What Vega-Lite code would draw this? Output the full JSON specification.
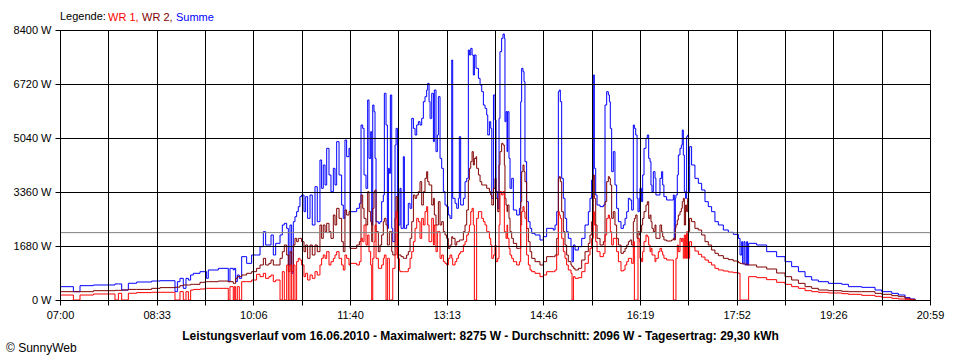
{
"$schema": "https://vega.github.io/schema/vega-lite/v6.json",
"width": 870, "height": 270,
"autosize": {"type": "none"},
"padding": {"left": 60, "top": 30, "right": 30, "bottom": 60},
"background": "white",
"config": {"view": {"stroke": "#000", "strokeWidth": 1}, "font": "Liberation Sans"},
"title": {"text": "© SunnyWeb", "orient": "bottom", "anchor": "start", "frame": "group", "dx": -54, "offset": 2, "fontSize": 12, "fontWeight": "normal", "color": "#000", "font": "Liberation Sans"},
"layer": [
{
"data": {"values": [
{"t":420,"s1":415,"s2":259,"s3":155},{"t":432.9,"s1":259,"s2":259,"s3":0},{"t":439.3,"s1":446,"s2":259,"s3":155},{"t":452.2,"s1":467,"s2":290,"s3":187},{"t":473,"s1":500,"s2":300,"s3":0},{"t":476.3,"s1":500,"s2":300,"s3":207},{"t":479.5,"s1":310,"s2":310,"s3":0},{"t":485.9,"s1":520,"s2":330,"s3":210},{"t":493.9,"s1":560,"s2":330,"s3":230},{"t":508.4,"s1":590,"s2":363,"s3":240},{"t":516.5,"s1":600,"s2":385,"s3":240},{"t":530.9,"s1":260,"s2":395,"s3":0},{"t":533.2,"s1":570,"s2":400,"s3":0},{"t":535.7,"s1":674,"s2":445,"s3":260},{"t":538.9,"s1":363,"s2":467,"s3":0},{"t":541.5,"s1":674,"s2":467,"s3":259},{"t":543.8,"s1":620,"s2":467,"s3":0},{"t":546,"s1":778,"s2":488,"s3":310},{"t":548.6,"s1":830,"s2":488,"s3":330},{"t":555,"s1":881,"s2":550,"s3":342},
{"t":559.8,"s1":881,"s2":570,"s3":363},{"t":561.4,"s1":674,"s2":570,"s3":363},{"t":563,"s1":933,"s2":570,"s3":363},{"t":572.7,"s1":985,"s2":590,"s3":363},{"t":582.3,"s1":570,"s2":570,"s3":0},{"t":583.9,"s1":985,"s2":570,"s3":415},{"t":587.1,"s1":933,"s2":518,"s3":0},{"t":588.1,"s1":985,"s2":518,"s3":415},{"t":589.4,"s1":570,"s2":674,"s3":0},{"t":591,"s1":778,"s2":726,"s3":415},{"t":592.9,"s1":674,"s2":726,"s3":0},{"t":595.2,"s1":1348,"s2":778,"s3":570},{"t":600,"s1":1140,"s2":830,"s3":570},{"t":604.8,"s1":1400,"s2":881,"s3":622},{"t":609.6,"s1":1400,"s2":985,"s3":800},{"t":612.9,"s1":1659,"s2":1089,"s3":726},{"t":616.1,"s1":2126,"s2":1296,"s3":830},{"t":618.3,"s1":1711,"s2":1089,"s3":674},{"t":621.5,"s1":1711,"s2":1140,"s3":726},{"t":623.5,"s1":2022,"s2":1244,"s3":778},{"t":625.7,"s1":1400,"s2":1089,"s3":570},{"t":628,"s1":1763,"s2":1089,"s3":622},{"t":632.2,"s1":2022,"s2":1296,"s3":0},{"t":634.4,"s1":2333,"s2":1504,"s3":881},{"t":636.3,"s1":2385,"s2":1711,"s3":0},{"t":638.6,"s1":2229,"s2":1400,"s3":1089},{"t":640.2,"s1":1089,"s2":881,"s3":0},{"t":641.8,"s1":2333,"s2":1504,"s3":1089},{"t":643.4,"s1":830,"s2":881,"s3":0},{"t":645,"s1":2437,"s2":1711,"s3":1089},{"t":646.6,"s1":2592,"s2":1918,"s3":0},{"t":648.2,"s1":2748,"s2":1815,"s3":1192},{"t":649.8,"s1":2904,"s2":1918,"s3":1296},{"t":651.4,"s1":3215,"s2":1918,"s3":1244},{"t":653,"s1":3266,"s2":1815,"s3":1089},{"t":655.3,"s1":2748,"s2":1504,"s3":726},{"t":656.9,"s1":3215,"s2":1711,"s3":830},{"t":658.8,"s1":2540,"s2":1296,"s3":622},{"t":661.1,"s1":3266,"s2":1711,"s3":778},{"t":663.3,"s1":2333,"s2":1400,"s3":674},{"t":665.9,"s1":3525,"s2":1711,"s3":881},{"t":668.1,"s1":2437,"s2":1504,"s3":778},{"t":670.7,"s1":4355,"s2":2333,"s3":1089},{"t":672.3,"s1":3474,"s2":1918,"s3":1296},{"t":673.9,"s1":4200,"s2":2333,"s3":1400},{"t":675.6,"s1":3578,"s2":2126,"s3":1296},{"t":677.2,"s1":4718,"s2":2385,"s3":1504},{"t":679.4,"s1":3889,"s2":2126,"s3":1089},{"t":681.3,"s1":3370,"s2":1918,"s3":1192},{"t":683.6,"s1":4096,"s2":2644,"s3":1296},{"t":685.2,"s1":3578,"s2":2333,"s3":1400},{"t":686.8,"s1":4926,"s2":2852,"s3":1504},{"t":689.1,"s1":3889,"s2":2540,"s3":1296},{"t":691.6,"s1":2955,"s2":1815,"s3":1089},{"t":693.2,"s1":2540,"s2":1504,"s3":933},{"t":694.8,"s1":4977,"s2":2800,"s3":1400},{"t":696.4,"s1":4459,"s2":2644,"s3":1296},{"t":698.7,"s1":4718,"s2":2748,"s3":1089},
{"t":699.7,"s1":2748,"s2":1607,"s3":1140},{"t":706.1,"s1":2852,"s2":1711,"s3":1089},{"t":708.7,"s1":3007,"s2":1815,"s3":1192},{"t":710.3,"s1":5444,"s2":3266,"s3":1918},{"t":711.9,"s1":5340,"s2":2852,"s3":1815},{"t":713.2,"s1":3889,"s2":2540,"s3":2333},{"t":715.1,"s1":3474,"s2":2333,"s3":1711},{"t":716.7,"s1":6222,"s2":3370,"s3":2022},{"t":718,"s1":4407,"s2":2748,"s3":1504},{"t":719.6,"s1":5237,"s2":2437,"s3":1089},{"t":720.6,"s1":2333,"s2":1815,"s3":0},{"t":721.6,"s1":6066,"s2":2852,"s3":1296},{"t":722.8,"s1":5859,"s2":3370,"s3":1815},{"t":723.8,"s1":4407,"s2":3422,"s3":2333},{"t":724.8,"s1":2437,"s2":2126,"s3":1296},{"t":727,"s1":2385,"s2":1504,"s3":985},{"t":728.6,"s1":2437,"s2":1711,"s3":985},{"t":730.2,"s1":3059,"s2":2022,"s3":1089},{"t":731.8,"s1":3266,"s2":2437,"s3":1296},{"t":732.8,"s1":6430,"s2":2540,"s3":1400},{"t":734.4,"s1":5444,"s2":2333,"s3":0},{"t":735.7,"s1":2229,"s2":1711,"s3":1296},{"t":736.7,"s1":4096,"s2":1711,"s3":1296},{"t":737.6,"s1":3941,"s2":2126,"s3":0},{"t":738.6,"s1":6378,"s2":2126,"s3":0},{"t":739.9,"s1":2229,"s2":1504,"s3":0},{"t":740.9,"s1":1815,"s2":1400,"s3":985},{"t":743.1,"s1":4822,"s2":2540,"s3":1400},{"t":744.1,"s1":5340,"s2":3215,"s3":2748},{"t":745.4,"s1":2333,"s2":1400,"s3":1296},{"t":747.3,"s1":2333,"s2":1400,"s3":933},{"t":747.9,"s1":3474,"s2":1400,"s3":881},{"t":748.9,"s1":2229,"s2":1348,"s3":881},{"t":751.1,"s1":4459,"s2":1296,"s3":881},{"t":752.1,"s1":2229,"s2":1296,"s3":881},{"t":754.3,"s1":2333,"s2":1400,"s3":881},{"t":755.9,"s1":3007,"s2":1504,"s3":985},{"t":757.6,"s1":2852,"s2":1918,"s3":1296},{"t":759.2,"s1":5652,"s2":2437,"s3":1504},{"t":760.8,"s1":5340,"s2":3266,"s3":1815},{"t":762.4,"s1":5133,"s2":3163,"s3":2229},{"t":764,"s1":5444,"s2":3266,"s3":2540},{"t":765.6,"s1":5548,"s2":3370,"s3":2437},{"t":767.2,"s1":5444,"s2":3681,"s3":1918},{"t":768.8,"s1":5652,"s2":2955,"s3":2540},{"t":770.4,"s1":6170,"s2":3370,"s3":2333},{"t":772,"s1":6326,"s2":3785,"s3":2748},{"t":773.6,"s1":6533,"s2":3992,"s3":2904},{"t":774.6,"s1":6740,"s2":3681,"s3":2333},{"t":775.9,"s1":6170,"s2":3578,"s3":1815},{"t":776.9,"s1":5652,"s2":3578,"s3":1815},{"t":778.5,"s1":6430,"s2":2955,"s3":2540},{"t":780.1,"s1":4926,"s2":3163,"s3":1711},{"t":781,"s1":6533,"s2":2644,"s3":2333},{"t":782.6,"s1":4615,"s2":2333,"s3":1504},{"t":783.9,"s1":5133,"s2":2333,"s3":2126},{"t":784.9,"s1":6326,"s2":3059,"s3":2126},{"t":786.5,"s1":4407,"s2":2333,"s3":1296},{"t":788.1,"s1":4096,"s2":2437,"s3":1400},{"t":789.7,"s1":3370,"s2":2126,"s3":1192},{"t":791.3,"s1":2955,"s2":2022,"s3":1140},{"t":792.9,"s1":2904,"s2":1918,"s3":1089},{"t":794.5,"s1":2644,"s2":1607,"s3":1296},{"t":796.1,"s1":2540,"s2":1711,"s3":1400},{"t":797.8,"s1":7466,"s2":1970,"s3":1296},{"t":798.7,"s1":3163,"s2":1918,"s3":1089},{"t":801,"s1":3007,"s2":1711,"s3":1192},{"t":802.6,"s1":2852,"s2":1815,"s3":1296},{"t":804.2,"s1":3163,"s2":1815,"s3":1400},{"t":805.1,"s1":5081,"s2":1867,"s3":1452},{"t":806.4,"s1":2955,"s2":1867,"s3":1504},{"t":809,"s1":3163,"s2":2126,"s3":1711},{"t":810.6,"s1":3681,"s2":2333,"s3":1815},{"t":812.2,"s1":3785,"s2":2800,"s3":2022},{"t":813.8,"s1":7777,"s2":3733,"s3":2126},{"t":814.8,"s1":7622,"s2":4096,"s3":2333},{"t":816.1,"s1":7829,"s2":4304,"s3":2748},{"t":817.4,"s1":7622,"s2":4615,"s3":2852},{"t":818.6,"s1":7000,"s2":4200,"s3":2333},{"t":819.6,"s1":7622,"s2":4407,"s3":0},{"t":821.2,"s1":7207,"s2":4459,"s3":0},{"t":821.8,"s1":7207,"s2":4096,"s3":2540},{"t":823.5,"s1":6896,"s2":3889,"s3":2748},{"t":825.1,"s1":6689,"s2":3681,"s3":2748},{"t":826.7,"s1":6481,"s2":3578,"s3":2540},{"t":828.3,"s1":6066,"s2":3578,"s3":2437},{"t":829.9,"s1":5963,"s2":3578,"s3":2333},{"t":831.5,"s1":5755,"s2":3474,"s3":2126},{"t":832.5,"s1":5133,"s2":3474,"s3":2126},{"t":834.1,"s1":5548,"s2":3370,"s3":1918},{"t":835.4,"s1":5340,"s2":3266,"s3":1711},{"t":836.4,"s1":3163,"s2":2955,"s3":1296},{"t":838,"s1":6378,"s2":3474,"s3":1400},
{"t":839.5,"s1":5600,"s2":3785,"s3":1711},{"t":840.5,"s1":3370,"s2":3163,"s3":1192},{"t":842.1,"s1":2852,"s2":2748,"s3":1296},{"t":843.4,"s1":5652,"s2":4200,"s3":2333},{"t":844.3,"s1":7726,"s2":4615,"s3":3370},{"t":845.9,"s1":8140,"s2":4874,"s3":3266},{"t":847.2,"s1":8275,"s2":4822,"s3":3370},{"t":848.5,"s1":8140,"s2":4200,"s3":2126},{"t":849.1,"s1":5548,"s2":3163,"s3":2126},{"t":850.1,"s1":5859,"s2":2955,"s3":1918},{"t":851.1,"s1":4615,"s2":2748,"s3":2333},{"t":851.7,"s1":5859,"s2":2955,"s3":1918},{"t":853,"s1":4407,"s2":2540,"s3":1607},{"t":854,"s1":3474,"s2":2126,"s3":1400},{"t":855.6,"s1":3785,"s2":1918,"s3":1296},{"t":857.2,"s1":2800,"s2":1763,"s3":1192},{"t":860.4,"s1":2644,"s2":1607,"s3":1089},{"t":863,"s1":2852,"s2":1607,"s3":1192},{"t":864.3,"s1":6170,"s2":3059,"s3":2333},{"t":865.2,"s1":7207,"s2":3992,"s3":2748},{"t":866.5,"s1":7103,"s2":4200,"s3":2904},{"t":867.5,"s1":6792,"s2":3992,"s3":2748},{"t":868.4,"s1":4304,"s2":3681,"s3":2540},{"t":870,"s1":3059,"s2":2229,"s3":1400},{"t":871.7,"s1":2437,"s2":1815,"s3":1089},{"t":873.3,"s1":2229,"s2":1504,"s3":933},{"t":874.9,"s1":2074,"s2":1296,"s3":881},{"t":878.1,"s1":2022,"s2":1192,"s3":830},{"t":882.9,"s1":1867,"s2":1089,"s3":726},{"t":886.1,"s1":1970,"s2":1192,"s3":778},{"t":889.3,"s1":2229,"s2":1348,"s3":881},{"t":892.5,"s1":2229,"s2":1348,"s3":881},{"t":895.8,"s1":2178,"s2":1348,"s3":881},{"t":897.4,"s1":2333,"s2":1400,"s3":933},{"t":899,"s1":2748,"s2":1918,"s3":1400},{"t":900.6,"s1":6481,"s2":3785,"s3":2748},{"t":901.5,"s1":6533,"s2":3837,"s3":2644},{"t":902.5,"s1":6170,"s2":3681,"s3":2540},{"t":903.8,"s1":3785,"s2":2748,"s3":1918},{"t":905.4,"s1":3163,"s2":2126,"s3":1504},{"t":907,"s1":2540,"s2":1711,"s3":1296},{"t":908.6,"s1":2126,"s2":1400,"s3":1089},{"t":910.2,"s1":1918,"s2":1192,"s3":933},{"t":912.8,"s1":1659,"s2":1089,"s3":830},{"t":913.8,"s1":1192,"s2":1037,"s3":0},{"t":915.1,"s1":1711,"s2":985,"s3":726},{"t":916.7,"s1":1555,"s2":933,"s3":674},{"t":919.9,"s1":1659,"s2":985,"s3":695},{"t":923.1,"s1":1918,"s2":1244,"s3":881},{"t":926.3,"s1":2333,"s2":1504,"s3":1140},{"t":929.5,"s1":2748,"s2":1763,"s3":1400},{"t":931.1,"s1":3163,"s2":2022,"s3":1607},{"t":932.7,"s1":3733,"s2":2437,"s3":1918},{"t":934.3,"s1":7000,"s2":3889,"s3":2748},{"t":935.3,"s1":4096,"s2":3163,"s3":2333},{"t":936.6,"s1":3266,"s2":2333,"s3":1815},{"t":937.9,"s1":2955,"s2":1918,"s3":1504},{"t":940.8,"s1":2904,"s2":1711,"s3":1348},{"t":944,"s1":2955,"s2":1815,"s3":1452},{"t":945.6,"s1":6066,"s2":3059,"s3":2022},{"t":947.2,"s1":6481,"s2":3681,"s3":2540},{"t":948.8,"s1":6378,"s2":3837,"s3":2644},{"t":949.8,"s1":6170,"s2":3785,"s3":2540},{"t":950.7,"s1":5340,"s2":3578,"s3":2126},{"t":952,"s1":3992,"s2":2540,"s3":1711},{"t":953.6,"s1":4615,"s2":2748,"s3":1918},{"t":955.2,"s1":3578,"s2":2333,"s3":1918},{"t":956.8,"s1":2852,"s2":1918,"s3":1504},{"t":958.5,"s1":2437,"s2":1711,"s3":1192},{"t":961,"s1":2229,"s2":1452,"s3":903},{"t":963.3,"s1":2333,"s2":1504,"s3":933},{"t":964.9,"s1":2540,"s2":1607,"s3":1089},{"t":966.5,"s1":2748,"s2":1711,"s3":1192},{"t":968.1,"s1":3163,"s2":1815,"s3":1296},{"t":969.7,"s1":3111,"s2":1867,"s3":1296},{"t":971.3,"s1":2800,"s2":1711,"s3":1140},{"t":972.9,"s1":5444,"s2":2437,"s3":1815},{"t":973.9,"s1":5340,"s2":2540,"s3":0},{"t":975.2,"s1":5133,"s2":2644,"s3":0},{"t":976.5,"s1":3163,"s2":1918,"s3":0},{"t":977.4,"s1":2748,"s2":2126,"s3":1918},{"t":978.7,"s1":3163,"s2":2022,"s3":1815},
{"t":979.3,"s1":3474,"s2":2126,"s3":1296},{"t":980.9,"s1":3059,"s2":2333,"s3":1192},{"t":981.9,"s1":3889,"s2":2540,"s3":1504},{"t":983.2,"s1":4718,"s2":2748,"s3":1815},{"t":985.1,"s1":5029,"s2":2955,"s3":2022},{"t":986.4,"s1":5133,"s2":3059,"s3":1970},{"t":987.7,"s1":4407,"s2":2540,"s3":1711},{"t":989,"s1":4304,"s2":2644,"s3":1504},{"t":989.9,"s1":3578,"s2":2437,"s3":1607},{"t":990.9,"s1":3370,"s2":2229,"s3":1400},{"t":992.2,"s1":3992,"s2":2126,"s3":1400},{"t":993.8,"s1":3785,"s2":2333,"s3":1192},{"t":994.7,"s1":3266,"s2":1918,"s3":1296},{"t":997,"s1":3266,"s2":1918,"s3":1504},{"t":998.6,"s1":3785,"s2":2333,"s3":1607},{"t":1000.2,"s1":3992,"s2":2126,"s3":1504},{"t":1001.2,"s1":3578,"s2":1970,"s3":1400},{"t":1002.4,"s1":3215,"s2":1867,"s3":1296},{"t":1005,"s1":3111,"s2":1835,"s3":1244},{"t":1009.8,"s1":3111,"s2":1867,"s3":1244},{"t":1011.5,"s1":3266,"s2":1918,"s3":0},{"t":1012.4,"s1":1918,"s2":1867,"s3":0},{"t":1013.4,"s1":3163,"s2":2229,"s3":0},{"t":1014,"s1":3266,"s2":2333,"s3":1296},{"t":1015.3,"s1":3889,"s2":2488,"s3":1711},{"t":1016.3,"s1":4511,"s2":2644,"s3":1504},{"t":1017.9,"s1":4718,"s2":2748,"s3":1918},{"t":1019.2,"s1":4822,"s2":2852,"s3":1815},{"t":1020.1,"s1":5289,"s2":3059,"s3":1918},{"t":1021.1,"s1":4511,"s2":3163,"s3":1296},{"t":1022.1,"s1":3370,"s2":2333,"s3":2022},{"t":1023.3,"s1":3163,"s2":2955,"s3":1296},{"t":1024.3,"s1":5081,"s2":2748,"s3":2126},{"t":1025.3,"s1":5133,"s2":3163,"s3":1296},{"t":1026.2,"s1":3370,"s2":2126,"s3":1296},{"t":1027.2,"s1":4770,"s2":2540,"s3":1815},{"t":1029.1,"s1":4200,"s2":2437,"s3":1659},{"t":1032.3,"s1":3785,"s2":2229,"s3":1524},{"t":1035.6,"s1":3630,"s2":2178,"s3":1420},{"t":1038.8,"s1":3422,"s2":2022,"s3":1337},{"t":1042,"s1":3059,"s2":1815,"s3":1244},{"t":1045.2,"s1":2904,"s2":1711,"s3":1172},{"t":1048.4,"s1":2748,"s2":1555,"s3":1089},{"t":1051.6,"s1":2437,"s2":1452,"s3":985},{"t":1054.9,"s1":2333,"s2":1379,"s3":933},{"t":1059.7,"s1":2178,"s2":1296,"s3":902},{"t":1064.5,"s1":2105,"s2":1255,"s3":871},{"t":1069.3,"s1":2043,"s2":1213,"s3":850},{"t":1074.2,"s1":1918,"s2":1161,"s3":830},{"t":1075.8,"s1":1400,"s2":1140,"s3":0},{"t":1077.4,"s1":1815,"s2":1130,"s3":0},{"t":1078.3,"s1":1140,"s2":1120,"s3":0},{"t":1079.6,"s1":1815,"s2":1120,"s3":0},{"t":1080.6,"s1":1089,"s2":1120,"s3":0},{"t":1082.2,"s1":1815,"s2":1089,"s3":0},{"t":1083.1,"s1":1089,"s2":1089,"s3":0},{"t":1084.1,"s1":1763,"s2":1089,"s3":726},{"t":1091.8,"s1":1711,"s2":1026,"s3":695},{"t":1101.5,"s1":1504,"s2":964,"s3":633},{"t":1111.1,"s1":1348,"s2":840,"s3":550},
{"t":1119.2,"s1":1192,"s2":726,"s3":488},{"t":1125.6,"s1":1037,"s2":622,"s3":415},{"t":1132.1,"s1":881,"s2":518,"s3":363},{"t":1138.5,"s1":726,"s2":415,"s3":290},{"t":1144.9,"s1":622,"s2":363,"s3":259},{"t":1151.3,"s1":570,"s2":311,"s3":238},{"t":1161,"s1":518,"s2":290,"s3":218},{"t":1173.9,"s1":488,"s2":270,"s3":197},{"t":1180.3,"s1":415,"s2":259,"s3":176},{"t":1193.1,"s1":394,"s2":259,"s3":145},{"t":1206,"s1":311,"s2":207,"s3":114},{"t":1212.4,"s1":259,"s2":176,"s3":83},{"t":1222.1,"s1":207,"s2":135,"s3":52},{"t":1228.5,"s1":156,"s2":104,"s3":31},{"t":1234.9,"s1":73,"s2":52,"s3":21},{"t":1239.7,"s1":31,"s2":21,"s3":0},{"t":1244.6,"s1":0,"s2":0,"s3":0}
]},
"transform": [{"fold": ["s1", "s2", "s3"], "as": ["k", "w"]}],
"mark": {"type": "line", "interpolate": "step-after", "strokeWidth": 1},
"encoding": {
"x": {"field": "t", "type": "quantitative", "scale": {"domain": [420, 1259], "nice": false, "zero": false},
 "axis": {"values": [420,466.61,513.22,559.83,606.44,653.06,699.67,746.28,792.89,839.5,886.11,932.72,979.33,1025.94,1072.56,1119.17,1165.78,1212.39,1259],
  "labelExpr": "round(datum.value)==420?'07:00':round(datum.value)==513?'08:33':round(datum.value)==606?'10:06':round(datum.value)==700?'11:40':round(datum.value)==793?'13:13':round(datum.value)==886?'14:46':round(datum.value)==979?'16:19':round(datum.value)==1073?'17:52':round(datum.value)==1166?'19:26':round(datum.value)==1259?'20:59':''",
  "labelOverlap": false, "labelFlush": false, "labelFontSize": 11, "labelColor": "#000", "labelPadding": 4,
  "grid": true, "gridColor": "#000", "gridOpacity": 1, "gridWidth": 1,
  "tickColor": "#000", "tickSize": 5, "domainColor": "#000", "zindex": 1,
  "title": "Leistungsverlauf vom 16.06.2010 - Maximalwert: 8275 W - Durchschnitt: 2096 W - Tagesertrag: 29,30 kWh",
  "titleFontSize": 12, "titleFontWeight": "bold", "titleColor": "#000", "titlePadding": 10, "titleX": 420, "titleAlign": "center"}},
"y": {"field": "w", "type": "quantitative", "scale": {"domain": [0, 8400], "nice": false},
 "axis": {"values": [0,1680,3360,5040,6720,8400], "labelExpr": "datum.value + ' W'", "title": null,
  "labelFontSize": 11, "labelColor": "#000", "labelPadding": 4,
  "grid": true, "gridColor": "#000", "gridOpacity": 1, "gridWidth": 1,
  "tickColor": "#000", "tickSize": 5, "domainColor": "#000", "zindex": 1}},
"color": {"field": "k", "type": "nominal", "scale": {"domain": ["s3", "s2", "s1"], "range": ["#ff0000", "#800000", "#0000ff"]},
 "legend": {"orient": "top", "direction": "horizontal", "title": "Legende:", "titleOrient": "left", "titleFontSize": 11, "titleFontWeight": "normal", "titleColor": "#000", "titlePadding": 3,
  "labelFontSize": 11, "labelExpr": "datum.value == 's3' ? 'WR 1,' : datum.value == 's2' ? 'WR 2,' : 'Summe'",
  "labelColor": {"expr": "datum.value == 's3' ? '#ff0000' : datum.value == 's2' ? '#800000' : '#0000ff'"},
  "symbolSize": 0, "symbolOpacity": 0, "symbolStrokeWidth": 0, "labelOffset": -12, "columnPadding": 3, "offset": 7, "padding": 0}}
}
},
{
"data": {"values": [{"avg": 2096}]},
"mark": {"type": "rule", "color": "#808080", "strokeWidth": 1},
"encoding": {"y": {"field": "avg", "type": "quantitative"}}
}
]
}
